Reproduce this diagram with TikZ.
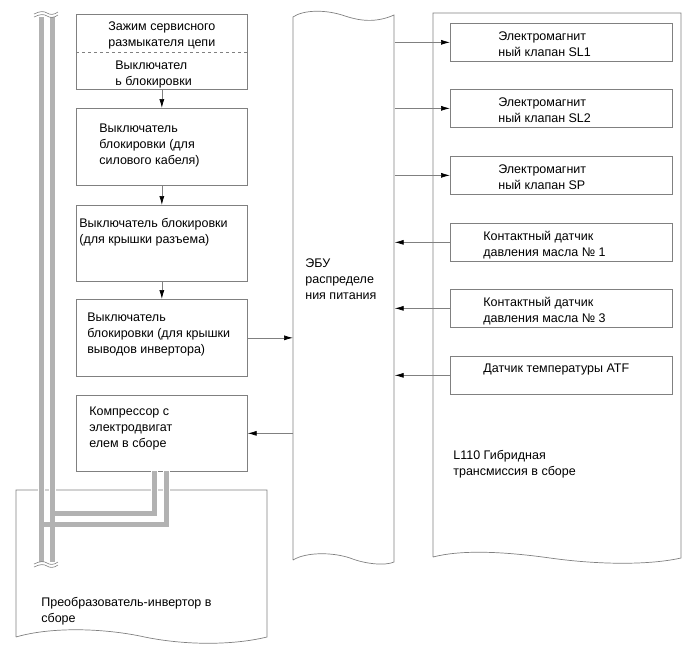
\documentclass[tikz,border=0pt]{standalone}
\usepackage{fontspec}
\setmainfont{Liberation Sans}
\usetikzlibrary{arrows.meta}
\definecolor{edgegray}{RGB}{128,128,128}
\definecolor{cablegray}{RGB}{178,178,178}
\tikzset{
    unitbox/.style={draw=edgegray, rectangle, inner sep=0pt, anchor=north west},
    txt/.style={anchor=north west, inner sep=0pt, align=left, font=\fontsize{12.5}{16}\selectfont},
    conn/.style={draw=edgegray, -{Latex[black, length=9pt, width=5pt]}},
    cable/.style={line width=5pt, cablegray},
    cableedge/.style={line width=7pt, white},
    breakmark/.style={edgegray, line width=0.6pt}
}
\begin{document}
\begin{tikzpicture}[x=1pt, y=-1pt, line width=0.7pt]
    \useasboundingbox (0,0) rectangle (690,659);
    % left column of units
    \begin{scope}[every node/.style={unitbox, minimum width=171pt}]
        \node[minimum height=75pt] (serv) at (76,14) {};
        \node[minimum height=77pt] (lockcab) at (76,108) {};
        \node[minimum height=76pt] (lockcon) at (76,205) {};
        \node[minimum height=77pt] (lockinv) at (76,299) {};
        \node[minimum height=76pt] (comp) at (76,395) {};
    \end{scope}
    \draw[edgegray, dashed, line width=0.5pt] (serv.west |- 0,52) -- (serv.east |- 0,52);
    % transmission units
    \begin{scope}[every node/.style={unitbox, minimum width=222pt, minimum height=38pt}]
        \node (sl1) at (450,23) {};
        \node (sl2) at (450,89) {};
        \node (sp) at (450,156) {};
        \node (ps1) at (450,223) {};
        \node (ps3) at (450,289) {};
        \node (atf) at (450,356) {};
    \end{scope}
    % large wavy blocks
    \node[inner sep=0pt, minimum width=101pt, minimum height=543pt, anchor=north west] (ecu) at (293,17) {};
    \draw[edgegray] (293,560) -- (293,17) .. controls (303,10) and (325,9) .. (345,16)
        .. controls (360,21) and (376,23) .. (394,15) -- (394,562)
        .. controls (385,566) and (365,564) .. (350,558)
        .. controls (332,552) and (306,552) .. (293,560);
    \draw[edgegray] (433,557) -- (433,13) -- (681,13) -- (681,558)
        .. controls (650,565) and (600,565) .. (550,558)
        .. controls (500,551) and (460,550) .. (433,557);
    \draw[edgegray] (16,637) -- (16,490) -- (267,490) -- (267,637)
        .. controls (230,646) and (180,645) .. (140,636)
        .. controls (100,628) and (50,627) .. (16,637);
    % cables
    \foreach \sty in {cableedge, cable} {
        \draw[\sty] (41,17) -- (41,562);
        \draw[\sty] (52,17) -- (52,562);
        \draw[\sty] (52,513.5) -| (154.5,471);
        \draw[\sty] (41,524.5) -| (166.5,471);
    }
    \foreach \yy in {13, 563} {
        \draw[breakmark] (34,\yy+1) .. controls (40,\yy-2) and (44,\yy-2) .. (47,\yy)
            .. controls (50,\yy+2) and (54,\yy+2) .. (58,\yy-1);
        \draw[breakmark] (34,\yy+4) .. controls (40,\yy+1) and (44,\yy+1) .. (47,\yy+3)
            .. controls (50,\yy+5) and (54,\yy+5) .. (58,\yy+2);
    }
    % labels
    \node[txt] (servtxt) at (108,21) {Зажим сервисного\\размыкателя цепи};
    \node[txt] (locktxt) at (115,61) {Выключател\\ь блокировки};
    \node[txt] (lockcabtxt) at (99,124) {Выключатель\\блокировки (для\\силового кабеля)};
    \node[txt] (lockcontxt) at (79,218) {Выключатель блокировки\\(для крышки разъема)};
    \node[txt] (lockinvtxt) at (87,313) {Выключатель\\блокировки (для крышки\\выводов инвертора)};
    \node[txt] (comptxt) at (89,407) {Компрессор с\\электродвигат\\елем в сборе};
    \node[txt] (invtxt) at (41,597) {Преобразователь-инвертор в\\сборе};
    \node[txt] (ecutxt) at (305,258) {ЭБУ\\распределе\\ния питания};
    \node[txt] (transtxt) at (453,450) {L110 Гибридная\\трансмиссия в сборе};
    \node[txt] (sl1txt) at (498,31) {Электромагнит\\ный клапан SL1};
    \node[txt] (sl2txt) at (498,97) {Электромагнит\\ный клапан SL2};
    \node[txt] (sptxt) at (498,164) {Электромагнит\\ный клапан SP};
    \node[txt] (ps1txt) at (483,231) {Контактный датчик\\давления масла № 1};
    \node[txt] (ps3txt) at (483,297) {Контактный датчик\\давления масла № 3};
    \node[txt] (atftxt) at (483,364) {Датчик температуры ATF};
    % signal lines
    \begin{scope}[every path/.style={conn}]
        \draw (serv) -- (lockcab);
        \draw (lockcab) -- (lockcon);
        \draw (lockcon) -- (lockinv);
        \draw (lockinv.east) -- (lockinv.east -| ecu.west);
        \draw (comp.east -| ecu.west) -- (comp.east);
        \foreach \out in {sl1, sl2, sp}
            \draw (\out.west -| ecu.east) -- (\out.west);
        \foreach \in in {ps1, ps3, atf}
            \draw (\in.west) -- (\in.west -| ecu.east);
    \end{scope}
\end{tikzpicture}
\end{document}
